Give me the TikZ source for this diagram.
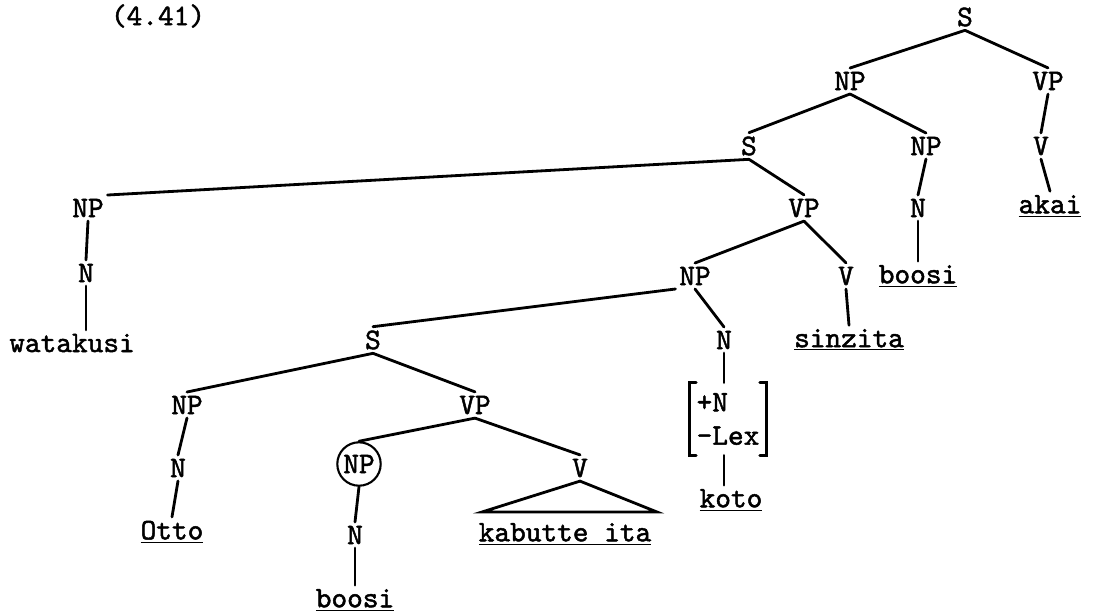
\documentclass[tikz,border=0pt]{standalone}
\usepackage{fontspec}
\setmonofont{lmmono10-regular.otf}[AutoFakeBold=1.6]
\tikzset{
  cat/.style={font=\ttfamily\bfseries\fontsize{17}{19}\selectfont, inner sep=2pt},
  branch/.style={line width=1.6pt, line cap=round},
}
\newcommand{\uword}[1]{\underline{#1}}
\begin{document}
\begin{tikzpicture}[x=0.02cm, y=-0.02cm]
        \useasboundingbox (0,0) rectangle (1100,613);
        % Number
        \node[cat] (num) at (158,16) {(4.41)};
        
        % Top of tree
        \node[cat] (s1) at (965,17) {S};
        \node[cat] (np1) at (850,81) {NP};
        \node[cat] (vp1) at (1048,81) {VP};
        \node[cat] (s2) at (749,146) {S};
        \node[cat] (np2) at (926,146) {NP};
        \node[cat] (v1) at (1041,146) {V};
        \node[cat] (n1) at (918,208) {N};
        \node[cat] (akai) at (1050,206) {\uword{akai}};
        \node[cat] (boosia) at (918,276) {\uword{boosi}};
        
        % Subject
        \node[cat] (np3) at (88,208) {NP};
        \node[cat] (n2) at (86,273) {N};
        \node[cat] (watakusi) at (72,343) {watakusi};
        
        % Relative clause VP
        \node[cat] (vp2) at (804,208) {VP};
        \node[cat] (np4) at (695,276) {NP};
        \node[cat] (v2) at (846,276) {V};
        \node[cat] (sinzita) at (849,340) {\uword{sinzita}};
        \node[cat] (n3) at (724,340) {N};
        \node[cat, align=left, minimum width=1.54cm, minimum height=1.44cm] (feat) at (728,419) {+N\\-Lex};
        \node[cat] (koto) at (731,500) {\uword{koto}};
        
        % Embedded S
        \node[cat] (s3) at (373,340) {S};
        \node[cat] (np5) at (187,405) {NP};
        \node[cat] (vp3) at (475,405) {VP};
        \node[cat] (n4) at (178,468) {N};
        \node[cat] (otto) at (172,532) {\uword{Otto}};
        \node[cat, draw, circle, inner sep=1.5pt, line width=1.2pt] (np6) at (359,464) {NP};
        \node[cat] (n5) at (355,535) {N};
        \node[cat] (boosib) at (355,600) {\uword{boosi}};
        \node[cat] (v3) at (580,468) {V};
        \node[cat] (kabutte) at (565,534) {\uword{kabutte ita}};
        \coordinate (kabl) at (482,512);
        \coordinate (kabr) at (657,512);
        
        % Branches
        \draw[branch] (s1.south) -- (np1.north);
        \draw[branch] (s1.south) -- (vp1.north);
        \draw[branch] (vp1.south) -- (v1.north);
        \draw[branch] (v1.south) -- (akai.north);
        \draw[branch] (np1.south) -- (s2.north);
        \draw[branch] (np1.south) -- (np2.north);
        \draw[branch] (np2.south) -- (n1.north);
        \draw[branch] (n1.south) -- (boosia.north);
        \draw[branch] (s2.south) -- (np3.north east);
        \draw[branch] (np3.south) -- (n2.north);
        \draw[branch] (n2.south) -- (n2.south |- watakusi.north);
        \draw[branch] (s2.south) -- (vp2.north);
        \draw[branch] (vp2.south) -- (np4.north);
        \draw[branch] (vp2.south) -- (v2.north);
        \draw[branch] (v2.south) -- (sinzita.north);
        \draw[branch] (np4.south) -- (n3.north);
        \draw[branch] (n3.south) -- (n3.south |- feat.north);
        \draw[branch] (n3.south |- feat.south) -- (n3.south |- koto.north);
        \draw[branch] ([xshift=4pt]feat.north west) -- (feat.north west) -- (feat.south west) -- ([xshift=4pt]feat.south west);
        \draw[branch] ([xshift=-4pt]feat.north east) -- (feat.north east) -- (feat.south east) -- ([xshift=-4pt]feat.south east);
        \draw[branch] (np4.south west) -- (s3.north);
        \draw[branch] (s3.south) -- (np5.north);
        \draw[branch] (s3.south) -- (vp3.north);
        \draw[branch] (np5.south) -- (n4.north);
        \draw[branch] (n4.south) -- (otto.north);
        \draw[branch] (vp3.south) -- (np6.north);
        \draw[branch] (vp3.south) -- (v3.north);
        \draw[branch] (np6.south) -- (n5.north);
        \draw[branch] (n5.south) -- (boosib.north);
        \draw[branch] (v3.south) -- (kabl) -- (kabr) -- cycle;
    \end{tikzpicture}
\end{document}
